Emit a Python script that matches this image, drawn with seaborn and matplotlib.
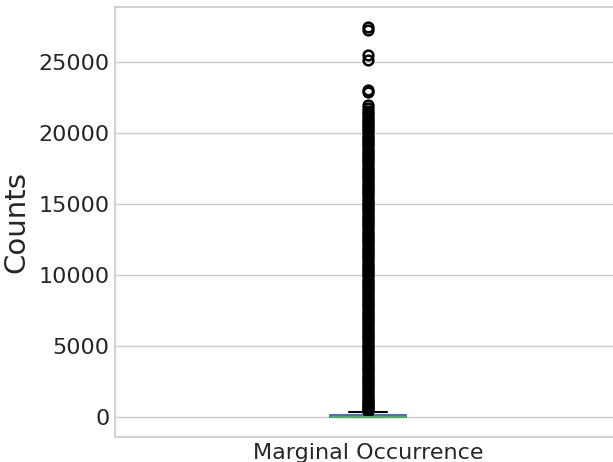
import numpy as np
import pandas as pd
import matplotlib
matplotlib.use('Agg')
import matplotlib.pyplot as plt
import seaborn as sns

body_values = [0, 10, 20, 60, 150, 250, 350]
body_counts = [300, 100, 150, 80, 150, 50, 20]

# outliers seen as the dense column of circles
outliers = [420, 520, 620, 720, 820, 920, 1050, 1150, 1300, 1450, 1600, 1750,
            1900, 2050, 2200, 2350, 2500, 2650, 2800, 2950, 3100, 3250, 3400,
            3550, 3700, 3850, 4000, 4150, 4300, 4450, 4600, 4750, 4900, 5050,
            5200, 5350, 5500, 5650, 5800, 5950, 6100, 6250, 6400, 6550, 6700,
            6850, 7000, 7150, 7300, 7450, 7600, 7750, 7900, 8050, 8200, 8350,
            8500, 8650, 8800, 8950, 9100, 9250, 9400, 9550, 9700, 9850, 10000,
            10150, 10300, 10450, 10600, 10750, 10900, 11050, 11200, 11350,
            11500, 11650, 11800, 11950, 12100, 12250, 12400, 12550, 12700,
            12850, 13000, 13150, 13300, 13450, 13600, 13750, 13900, 14050,
            14200, 14350, 14500, 14650, 14800, 14950, 15100, 15250, 15400,
            15550, 15700, 15850, 16000, 16150, 16300, 16450, 16600, 16750,
            16900, 17050, 17200, 17350, 17500, 17650, 17800, 17950, 18100,
            18250, 18400, 18550, 18700, 18850, 19000, 19150, 19300, 19450,
            19600, 19750, 19900, 20050, 20200, 20350, 20500, 20650, 20800,
            20950, 21100, 21250, 21400, 21550, 21750, 21970,
            22900, 23050, 25150, 25500, 27250, 27500]

category = 'Marginal Occurrence'

values = list(np.repeat(body_values, body_counts)) + outliers
df = pd.DataFrame({'group': category, 'Counts': values})

sns.set_theme(style='whitegrid')
plt.rcParams['font.family'] = ['DejaVu Sans']

fig = plt.figure(figsize=(6.13, 4.62), dpi=100)
ax = fig.add_axes([115 / 613, 1 - 437 / 462, (621 - 115) / 613, (437 - 7) / 462])

sns.boxplot(data=df, x='group', y='Counts', ax=ax, fill=False, width=0.15,
            color='C0', linewidth=1.5,
            boxprops=dict(color='C0'),
            whiskerprops=dict(color='black'),
            capprops=dict(color='black'),
            medianprops=dict(color='C2'),
            flierprops=dict(marker='o', markerfacecolor='none',
                            markeredgecolor='black', color='black',
                            markersize=7, markeredgewidth=1.8))

ax.set_xlabel('')
ax.set_ylabel('Counts', fontsize=21, labelpad=6)
ax.tick_params(axis='both', labelsize=16, length=0, pad=4)

fig.savefig('out.png', dpi=100)
